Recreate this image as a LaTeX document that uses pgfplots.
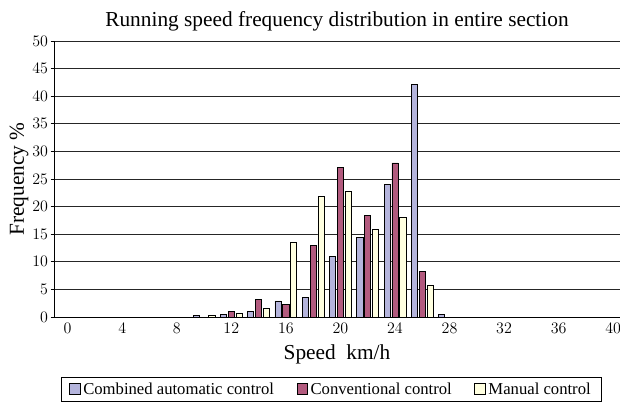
\documentclass[border=0pt]{standalone}
\usepackage{pgfplots}
\pgfplotsset{compat=1.18}
\usepackage{fontspec}
\setmainfont{Liberation Serif}
\definecolor{cblue}{HTML}{B4B4DC}
\definecolor{cred}{HTML}{B25A7E}
\definecolor{cyel}{HTML}{FFFFE0}
\begin{document}
\begin{tikzpicture}
\begin{axis}[
  name=ax,
  scale only axis,
  width=424.5pt, height=207pt,
  xmin=-1, xmax=40.5,
  ymin=0, ymax=50,
  ybar=1.3pt, bar width=4.6pt,
  axis x line*=bottom, axis y line*=left,
  xtick={0,4,...,40},
  minor xtick={1,3,...,39},
  ytick={0,5,...,50},
  tick align=inside,
  xtick style={draw=none},
  major tick length=2.5pt,
  minor tick length=3pt,
  minor x tick style={black, line width=0.6pt},
  ytick style={draw=black, line width=0.6pt, xshift=-2.5pt},
  ymajorgrids,
  major grid style={black!85, line width=0.6pt},
  axis line style={black, line width=0.7pt},
  ticklabel style={font=\fontsize{12}{13}\selectfont},
  xticklabel style={yshift=-1pt},
  yticklabel style={xshift=-1pt},
  title={Running speed frequency distribution in entire section},
  title style={font=\fontsize{16}{18}\selectfont, yshift=-2pt},
  xlabel={Speed\ \ km/h},
  ylabel={Frequency \%},
  xlabel style={font=\fontsize{16}{18}\selectfont, yshift=-2pt},
  ylabel style={font=\fontsize{16}{18}\selectfont, yshift=-4pt},
  legend style={at={(0.49,-0.217)}, anchor=north, legend columns=3,
    draw=black, line width=0.6pt, font=\fontsize{12.5}{14}\selectfont,
    /tikz/every even column/.append style={column sep=15pt},
    /tikz/every odd column/.append style={column sep=0pt},
    inner ysep=2pt, inner xsep=6pt},
  legend image code/.code={\draw[#1, line width=0.5pt] (0pt,-3.5pt) rectangle (8pt,4.5pt);},
  every axis plot/.append style={draw=black, line width=0.5pt},
]
\addplot[fill=cblue] coordinates {(10,0.35) (12,0.5) (14,1.0) (16,2.9) (18,3.6) (20,11.0) (22,14.4) (24,24.0) (26,42.2) (28,0.5)};
\addplot[fill=cred] coordinates {(12,1.0) (14,3.2) (16,2.3) (18,12.9) (20,27.1) (22,18.4) (24,27.9) (26,8.2)};
\addplot[fill=cyel] coordinates {(10,0.35) (12,0.7) (14,1.5) (16,13.6) (18,21.8) (20,22.7) (22,15.9) (24,18.1) (26,5.8)};
\legend{Combined automatic control, Conventional control, Manual control}
\end{axis}
\pgfresetboundingbox
\path ([xshift=-40.5pt, yshift=-66pt]ax.south west) rectangle ([yshift=30.75pt]ax.north east);
\end{tikzpicture}
\end{document}
